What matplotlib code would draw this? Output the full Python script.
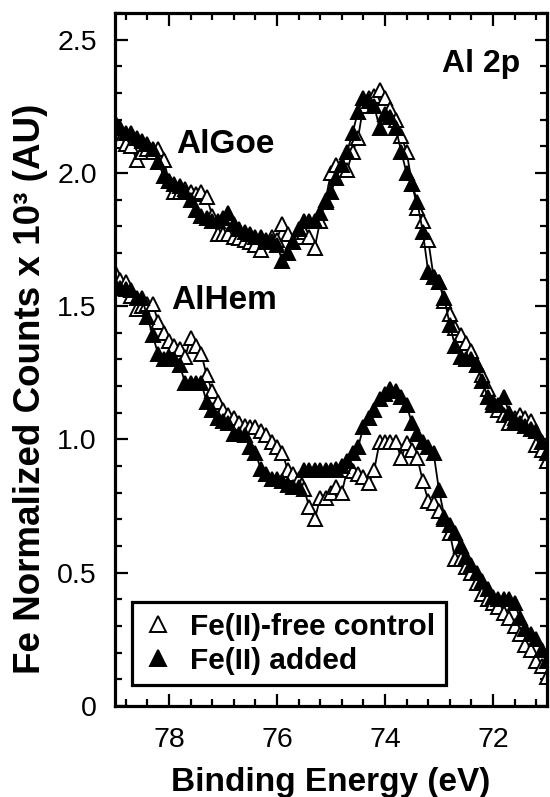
import matplotlib
matplotlib.use('Agg')
import matplotlib.pyplot as plt
from matplotlib.lines import Line2D
from matplotlib.ticker import MultipleLocator

plt.rcParams['font.family'] = ['Liberation Sans', 'DejaVu Sans']

# binding energy grid (eV), 79.0 -> 71.0
energia = [round(79.0 - 0.1 * i, 1) for i in range(81)]

goe_controle = [2.14, 2.12, 2.11, 2.10, 2.05, 2.08, 2.09, 2.08, 2.09, 2.05,
                1.97, 1.93, 1.93, 1.94, 1.93, 1.92, 1.93, 1.91, 1.84, 1.77,
                1.77, 1.77, 1.76, 1.755, 1.75, 1.74, 1.73, 1.71, 1.74, 1.76,
                1.75, 1.81, 1.77, 1.74, 1.76, 1.78, 1.76, 1.72, 1.82, 1.90,
                2.00, 2.03, 2.03, 2.01, 2.08, 2.13, 2.25, 2.28, 2.29, 2.31,
                2.28, 2.24, 2.20, 2.14, 2.08, 1.96, 1.87, 1.82, 1.75, 1.61,
                1.59, 1.52, 1.47, 1.42, 1.39, 1.36, 1.33, 1.28, 1.24, 1.19,
                1.14, 1.11, 1.09, 1.06, 1.08, 1.09, 1.08, 1.07, 0.98, 0.96,
                0.92]

goe_fe = [2.19, 2.17, 2.15, 2.15, 2.13, 2.12, 2.11, 2.09, 2.04, 1.99,
          1.97, 1.96, 1.95, 1.93, 1.90, 1.86, 1.84, 1.83, 1.82, 1.82,
          1.83, 1.85, 1.81, 1.79, 1.78, 1.77, 1.76, 1.76, 1.75, 1.745,
          1.73, 1.67, 1.70, 1.74, 1.79, 1.82, 1.82, 1.82, 1.85, 1.89,
          1.93, 1.98, 2.03, 2.08, 2.15, 2.23, 2.28, 2.27, 2.25, 2.17,
          2.22, 2.21, 2.17, 2.08, 2.00, 1.96, 1.89, 1.78, 1.63, 1.61,
          1.59, 1.53, 1.43, 1.35, 1.31, 1.30, 1.30, 1.28, 1.22, 1.16,
          1.13, 1.13, 1.16, 1.10, 1.07, 1.06, 1.05, 1.04, 1.03, 0.99,
          0.95]

hem_controle = [1.63, 1.60, 1.59, 1.54, 1.49, 1.50, 1.51, 1.51, 1.44, 1.40,
                1.37, 1.35, 1.34, 1.31, 1.38, 1.35, 1.32, 1.24, 1.18, 1.14,
                1.11, 1.09, 1.08, 1.06, 1.05, 1.045, 1.045, 1.03, 1.015, 0.99,
                0.97, 0.95, 0.885, 0.87, 0.85, 0.815, 0.745, 0.70, 0.78, 0.78,
                0.80, 0.82, 0.80, 0.885, 0.88, 0.87, 0.86, 0.835, 0.885, 0.99,
                0.99, 0.99, 0.99, 0.93, 0.985, 0.96, 0.93, 0.845, 0.77, 0.76,
                0.73, 0.70, 0.65, 0.55, 0.55, 0.52, 0.50, 0.46, 0.42, 0.40,
                0.385, 0.37, 0.35, 0.33, 0.30, 0.27, 0.23, 0.21, 0.17, 0.15,
                0.11]

hem_fe = [1.58, 1.57, 1.565, 1.56, 1.53, 1.53, 1.46, 1.39, 1.32, 1.30,
          1.31, 1.30, 1.28, 1.21, 1.21, 1.21, 1.21, 1.14, 1.11, 1.08,
          1.07, 1.06, 1.02, 1.02, 1.015, 0.97, 0.95, 0.89, 0.87, 0.85,
          0.85, 0.845, 0.83, 0.82, 0.82, 0.885, 0.885, 0.885, 0.885, 0.885,
          0.885, 0.89, 0.90, 0.92, 0.95, 0.97, 1.045, 1.08, 1.11, 1.15,
          1.17, 1.19, 1.18, 1.16, 1.13, 1.06, 1.02, 0.99, 0.97, 0.95,
          0.81, 0.71, 0.68, 0.65, 0.60, 0.56, 0.53, 0.50, 0.47, 0.44,
          0.41, 0.40, 0.40, 0.40, 0.385, 0.33, 0.29, 0.27, 0.25, 0.21,
          0.17]

fig = plt.figure(figsize=(5.5, 7.97), dpi=100)
ax = fig.add_axes([0.209, 0.1142, 0.7855, 0.8695])

estilo_aberto = dict(marker='^', markersize=9.5, markerfacecolor='white',
                     markeredgecolor='black', markeredgewidth=1.4,
                     color='black', lw=1.3)
estilo_cheio = dict(marker='^', markersize=9.5, markerfacecolor='black',
                    markeredgecolor='black', markeredgewidth=1.4,
                    color='black', lw=1.3)

ax.plot(energia, goe_controle, **estilo_aberto)
ax.plot(energia, goe_fe, **estilo_cheio)
ax.plot(energia, hem_controle, **estilo_aberto)
ax.plot(energia, hem_fe, **estilo_cheio)

ax.set_xlim(79, 71)
ax.set_ylim(0, 2.6)
ax.xaxis.set_major_locator(MultipleLocator(2))
ax.xaxis.set_minor_locator(MultipleLocator(0.4))
ax.yaxis.set_minor_locator(MultipleLocator(0.1))
ax.set_yticks([0, 0.5, 1.0, 1.5, 2.0, 2.5])
ax.set_yticklabels(['0', '0.5', '1.0', '1.5', '2.0', '2.5'])

ax.tick_params(which='both', direction='in', top=True, right=True,
               width=1.6, labelsize=20.5)
ax.tick_params(axis='x', which='both', pad=15)
ax.tick_params(axis='y', which='both', pad=13)
ax.tick_params(which='major', length=9)
ax.tick_params(which='minor', length=5)
for s in ax.spines.values():
    s.set_linewidth(2.3)

ax.set_xlabel('Binding Energy (eV)', fontsize=24, fontweight='bold', labelpad=10)
ax.set_ylabel('Fe Normalized Counts x 10³ (AU)', fontsize=26.5, fontweight='bold')
ax.yaxis.set_label_coords(-0.155, 0.458)

ax.text(77.86, 2.105, 'AlGoe', fontsize=24, fontweight='bold', va='center', ha='left')
ax.text(77.95, 1.52, 'AlHem', fontsize=24, fontweight='bold', va='center', ha='left')
ax.text(71.5, 2.41, 'Al 2p', fontsize=23, fontweight='bold', va='center', ha='right')

alcas = [Line2D([], [], ls='none', marker='^', markersize=11,
                markerfacecolor='white', markeredgecolor='black', markeredgewidth=1.4),
         Line2D([], [], ls='none', marker='^', markersize=11,
                markerfacecolor='black', markeredgecolor='black', markeredgewidth=1.4)]
leg = ax.legend(alcas, ['Fe(II)-free control', 'Fe(II) added'], loc='lower left',
                bbox_to_anchor=(0.04, 0.03), prop={'weight': 'bold', 'size': 21.5},
                frameon=True, fancybox=False, edgecolor='black', framealpha=1,
                handlelength=1.0, handletextpad=0.6, borderpad=0.35,
                labelspacing=0.2, borderaxespad=0)
leg.get_frame().set_linewidth(2.3)

fig.savefig('out.png', dpi=100)
